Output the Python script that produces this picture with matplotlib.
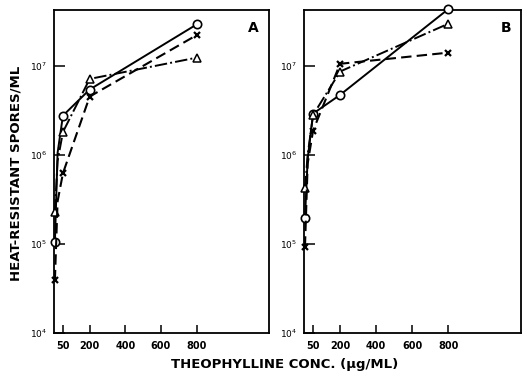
import numpy as np
import matplotlib
matplotlib.use('Agg')
import matplotlib.pyplot as plt
from matplotlib.ticker import FixedLocator, FixedFormatter

# theophylline concentration (ug/ml); the first point is the no-drug control
conc = [5, 20, 50, 200, 800]

# panel A: heat-resistant spores / ml
a_circle = [1.05e5, 1.05e6, 2.75e6, 5.4e6, 2.9e7]
a_triangle = [2.3e5, 8.5e5, 1.8e6, 7.1e6, 1.23e7]
a_cross = [3.9e4, 3.0e5, 6.2e5, 4.5e6, 2.2e7]

# panel B
b_circle = [1.95e5, 9.0e5, 2.9e6, 4.7e6, 4.3e7]
b_triangle = [4.2e5, 1.0e6, 2.8e6, 8.6e6, 2.95e7]
b_cross = [9.3e4, 8.0e5, 1.87e6, 1.05e7, 1.4e7]

xticks = [50, 200, 400, 600, 800]
yticks = [1e4, 1e5, 1e6, 1e7]
ylabels = ['10$^4$', '10$^5$', '10$^6$', '10$^7$']

fig = plt.figure(figsize=(5.27, 3.76), dpi=100)
axA = fig.add_axes([0.1025, 0.1144, 0.4075, 0.8586])
axB = fig.add_axes([0.577, 0.1144, 0.4116, 0.8586])

shown = [0, 2, 3, 4]  # the 20 ug/ml points are buried in the overlapping curves


def draw(ax, circ, tri, cross, label):
    ax.plot(conc, circ, '-', color='k', lw=1.4, marker='o', ms=6, markevery=shown,
            mfc='white', mec='k', mew=1.2, clip_on=False, zorder=3)
    ax.plot(conc, tri, '-.', color='k', lw=1.4, marker='^', ms=5.5, markevery=shown,
            mfc='white', mec='k', mew=1.1, clip_on=False, zorder=3)
    ax.plot(conc, cross, '--', color='k', lw=1.5, dashes=(5, 2.5), marker='x', ms=5,
            markevery=shown, mec='k', mew=1.6, clip_on=False, zorder=3)
    ax.set_yscale('log')
    ax.set_xlim(0, 1205)
    ax.set_ylim(1e4, 4.2e7)
    ax.yaxis.set_major_locator(FixedLocator(yticks))
    ax.yaxis.set_major_formatter(FixedFormatter(ylabels))
    ax.yaxis.set_minor_locator(FixedLocator([]))
    ax.set_xticks(xticks)
    ax.set_xticklabels([str(v) for v in xticks], fontweight='bold', fontsize=7)
    ax.tick_params(axis='y', direction='in', length=8, width=1.1, labelsize=6.5, pad=5)
    ax.tick_params(axis='x', direction='in', length=6, width=1.1, pad=6)
    for s in ax.spines.values():
        s.set_linewidth(1.3)
    ax.text(0.955, 0.965, label, transform=ax.transAxes, ha='right', va='top',
            fontsize=10, fontweight='bold')


draw(axA, a_circle, a_triangle, a_cross, 'A')
draw(axB, b_circle, b_triangle, b_cross, 'B')

fig.text(0.03, 0.54, 'HEAT-RESISTANT SPORES/ML', rotation=90, ha='center', va='center',
         fontsize=9.5, fontweight='bold')
fig.text(0.54, 0.03, 'THEOPHYLLINE CONC. (\u00b5g/ML)', ha='center', va='center',
         fontsize=9.5, fontweight='bold')

fig.savefig('out.png', dpi=100)
